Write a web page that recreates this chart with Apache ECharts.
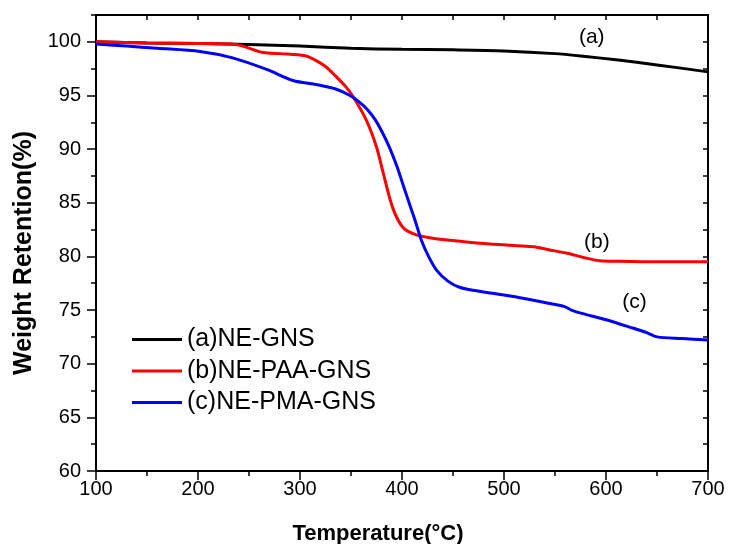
<!DOCTYPE html>
<html>
<head>
<meta charset="utf-8">
<script src="https://cdn.jsdelivr.net/npm/echarts@6/dist/echarts.min.js"></script>
<style>
  html, body { margin: 0; padding: 0; background: #fff; }
  #main { width: 729px; height: 544px; }
</style>
</head>
<body>
<div id="main"></div>
<script>
// series names
const names = ["(a)NE-GNS", "(b)NE-PAA-GNS", "(c)NE-PMA-GNS"];

// (a) NE-GNS
const tempA = [100, 150, 200, 250, 300, 350, 400, 450, 500, 550, 580, 610, 650, 700];
const wA = [100.0, 99.9, 99.85, 99.75, 99.6, 99.4, 99.3, 99.25, 99.15, 98.9, 98.63, 98.32, 97.85, 97.2];

// (b) NE-PAA-GNS
const tempB = [100, 150, 200, 234, 244, 264, 281, 305, 315, 325, 335, 345, 352, 365, 375, 381, 391, 401, 414, 430, 447, 480, 513, 529, 545, 562, 578, 594, 611, 650, 700];
const wB = [100.0, 99.9, 99.85, 99.8, 99.6, 99.0, 98.9, 98.7, 98.3, 97.7, 96.8, 95.8, 94.9, 92.7, 90.2, 88.0, 84.5, 82.7, 82.0, 81.7, 81.5, 81.2, 81.0, 80.9, 80.6, 80.3, 79.9, 79.6, 79.55, 79.5, 79.5];

// (c) NE-PMA-GNS
const tempC = [100, 130, 160, 202, 234, 268, 293, 317, 335, 349, 358, 366, 374, 381, 388, 395, 402, 408, 413, 419, 426, 434, 445, 457, 473, 500, 513, 540, 560, 566, 580, 600, 627, 640, 650, 675, 700];
const wC = [99.8, 99.6, 99.4, 99.1, 98.5, 97.4, 96.4, 96.0, 95.6, 95.0, 94.4, 93.7, 92.7, 91.5, 90.1, 88.4, 86.4, 84.7, 83.3, 81.5, 80.0, 78.7, 77.7, 77.1, 76.8, 76.4, 76.2, 75.7, 75.3, 75.0, 74.6, 74.1, 73.3, 72.9, 72.5, 72.35, 72.2];

// curve labels (data coordinates)
const tagText = ["(a)", "(b)", "(c)"];
const tagT = [586, 591, 628];
const tagW = [100.4, 81.3, 75.7];

const colors = ["#000000", "#ff0000", "#0000ff"];
const FONT = "Liberation Sans, Arial, sans-serif";

function pairs(xs, ys) {
  return xs.map((x, i) => [x, ys[i]]);
}

const chart = echarts.init(document.getElementById("main"));
const temps = [tempA, tempB, tempC];
const weights = [wA, wB, wC];

chart.setOption({
  animation: false,
  textStyle: { fontFamily: FONT, color: "#000" },
  grid: { left: 96, right: 21, top: 15, bottom: 73, containLabel: false, outerBoundsMode: "none" },
  legend: {
    orient: "vertical",
    left: 132,
    top: 327,
    itemWidth: 50,
    itemHeight: 3,
    itemGap: 6.5,
    icon: "rect",
    selectedMode: false,
    padding: 0,
    data: names,
    textStyle: { fontSize: 25, fontFamily: FONT, color: "#000", lineHeight: 25 }
  },
  xAxis: [
    {
      type: "value", position: "bottom", min: 100, max: 700, interval: 100,
      name: "Temperature(°C)",
      nameLocation: "middle",
      nameGap: 52,
      nameTextStyle: {
        fontSize: 22, fontWeight: "bold", fontFamily: FONT, color: "#000",
        padding: [0, 48, 0, 0]
      },
      axisLine: { show: true, lineStyle: { color: "#000", width: 2 } },
      axisTick: { show: true, inside: false, length: 9, lineStyle: { color: "#000", width: 1.5 } },
      axisLabel: { fontSize: 20, color: "#000", margin: 8, fontFamily: FONT },
      splitLine: { show: false }
    },
    {
      type: "value", position: "bottom", min: 100, max: 700, interval: 50,
      axisLine: { show: false },
      axisTick: { show: true, inside: false, length: 5, lineStyle: { color: "#000", width: 1.5 } },
      axisLabel: { show: false },
      splitLine: { show: false }
    },
    {
      type: "value", position: "top", min: 100, max: 700, interval: 50,
      axisLine: { show: true, lineStyle: { color: "#000", width: 2 } },
      axisTick: { show: true, inside: true, length: 5, lineStyle: { color: "#000", width: 1.5 } },
      axisLabel: { show: false },
      splitLine: { show: false }
    }
  ],
  yAxis: [
    {
      type: "value", position: "left", min: 60, max: 102.5, interval: 5,
      name: "Weight Retention(%)",
      nameLocation: "middle",
      nameGap: 58,
      nameTextStyle: { fontSize: 25, fontWeight: "bold", fontFamily: FONT, color: "#000", padding: [0, 20, 0, 0] },
      axisLine: { show: true, lineStyle: { color: "#000", width: 2 } },
      axisTick: { show: true, inside: false, length: 9, lineStyle: { color: "#000", width: 1.5 } },
      axisLabel: {
        fontSize: 20, color: "#000", margin: 15, fontFamily: FONT, showMaxLabel: false,
        formatter: v => (v % 5 === 0 ? String(v) : "")
      },
      splitLine: { show: false }
    },
    {
      type: "value", position: "left", min: 60, max: 102.5, interval: 2.5,
      axisLine: { show: false },
      axisTick: { show: true, inside: false, length: 5, lineStyle: { color: "#000", width: 1.5 } },
      axisLabel: { show: false },
      splitLine: { show: false }
    },
    {
      type: "value", position: "right", min: 60, max: 102.5, interval: 2.5,
      axisLine: { show: true, lineStyle: { color: "#000", width: 2 } },
      axisTick: { show: true, inside: true, length: 5, lineStyle: { color: "#000", width: 1.5 } },
      axisLabel: { show: false },
      splitLine: { show: false }
    }
  ],
  series: names.map((name, i) => ({
    name: name,
    type: "line",
    xAxisIndex: 0,
    yAxisIndex: 0,
    data: pairs(temps[i], weights[i]),
    showSymbol: false,
    smooth: 0.3,
    color: colors[i],
    lineStyle: { color: colors[i], width: 3 },
    silent: true,
    markPoint: {
      symbol: "circle",
      symbolSize: 0,
      silent: true,
      label: {
        show: true,
        position: "inside",
        formatter: tagText[i],
        fontSize: 21,
        fontFamily: FONT,
        color: "#000"
      },
      data: [{ coord: [tagT[i], tagW[i]] }]
    }
  }))
});
</script>
</body>
</html>
